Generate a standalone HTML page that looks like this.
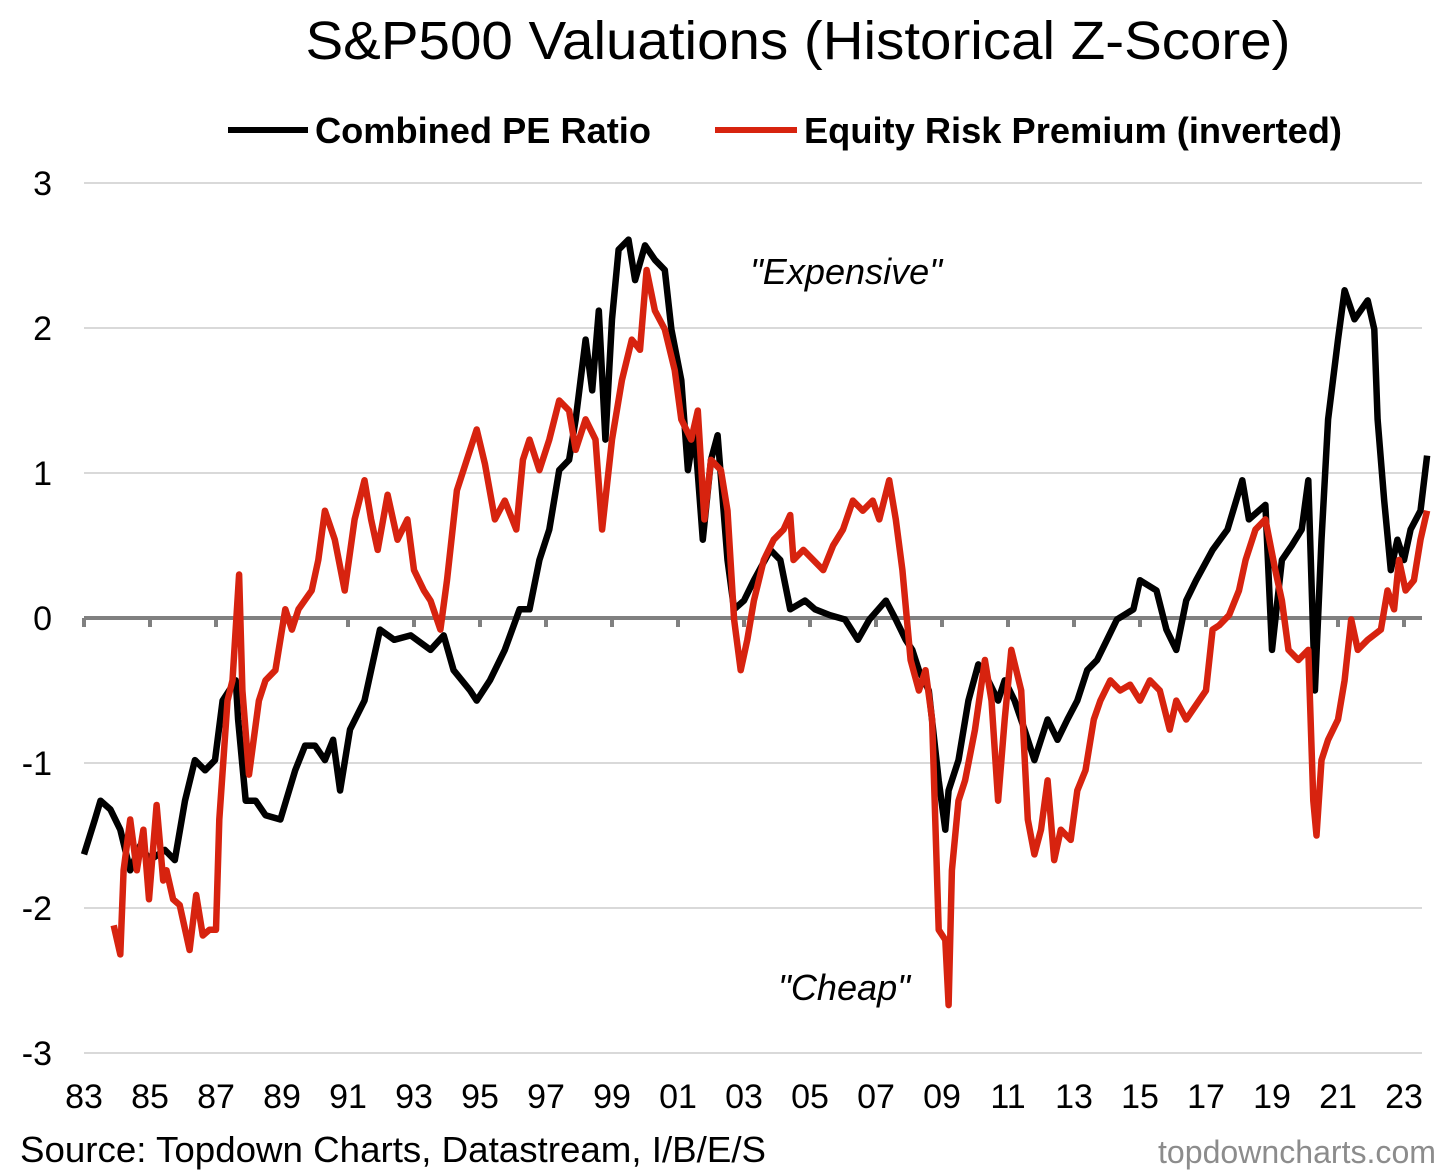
<!DOCTYPE html>
<html><head><meta charset="utf-8"><style>
body{margin:0;background:#fff;}
svg{display:block;font-family:"Liberation Sans",Arial,sans-serif;}
</style></head><body>
<svg id="chart" width="1456" height="1176" viewBox="0 0 1456 1176" xmlns="http://www.w3.org/2000/svg">
<rect width="1456" height="1176" fill="#fff"/>
<text x="798" y="59" text-anchor="middle" font-size="54" textLength="985" lengthAdjust="spacingAndGlyphs">S&amp;P500 Valuations (Historical Z-Score)</text>
<g>
<line x1="228" y1="130" x2="308" y2="130" stroke="#000" stroke-width="6"/>
<text x="315" y="143" font-size="36" font-weight="bold" textLength="336" lengthAdjust="spacingAndGlyphs">Combined PE Ratio</text>
<line x1="715" y1="130" x2="797" y2="130" stroke="#d7230f" stroke-width="6"/>
<text x="804" y="143" font-size="36" font-weight="bold" textLength="538" lengthAdjust="spacingAndGlyphs">Equity Risk Premium (inverted)</text>
</g>
<g id="grid"></g>
<g id="series"></g>
<g id="axes"></g>
<text x="846" y="284" text-anchor="middle" font-size="36" font-style="italic" textLength="192" lengthAdjust="spacingAndGlyphs">"Expensive"</text>
<text x="844" y="1000" text-anchor="middle" font-size="36" font-style="italic" textLength="132" lengthAdjust="spacingAndGlyphs">"Cheap"</text>
<text x="20" y="1162" font-size="36" textLength="746" lengthAdjust="spacingAndGlyphs">Source: Topdown Charts, Datastream, I/B/E/S</text>
<text x="1436" y="1163" text-anchor="end" font-size="32" fill="#8c8c8c" textLength="278" lengthAdjust="spacingAndGlyphs">topdowncharts.com</text>
</svg>
<script>
const yTicks=[3,2,1,0,-1,-2,-3];
const yTickLabels=["3","2","1","0","-1","-2","-3"];
const xTickYears=[1983,1985,1987,1989,1991,1993,1995,1997,1999,2001,2003,2005,2007,2009,2011,2013,2015,2017,2019,2021,2023];
const xTickLabels=["83","85","87","89","91","93","95","97","99","01","03","05","07","09","11","13","15","17","19","21","23"];
const peDates=[1983.0,1983.33,1983.5,1983.8,1984.1,1984.4,1984.7,1985.0,1985.45,1985.75,1986.06,1986.36,1986.67,1986.97,1987.2,1987.6,1987.67,1987.9,1988.2,1988.5,1988.95,1989.4,1989.7,1990.0,1990.3,1990.55,1990.76,1991.06,1991.5,1991.97,1992.4,1992.9,1993.5,1993.9,1994.2,1994.7,1994.9,1995.3,1995.75,1996.2,1996.5,1996.8,1997.1,1997.4,1997.7,1997.9,1998.2,1998.4,1998.6,1998.8,1999.0,1999.2,1999.5,1999.7,2000.0,2000.3,2000.6,2000.8,2001.1,2001.3,2001.5,2001.75,2002.0,2002.2,2002.5,2002.7,2003.0,2003.3,2003.8,2004.1,2004.4,2004.85,2005.15,2005.6,2006.06,2006.45,2006.8,2007.3,2007.6,2007.9,2008.1,2008.3,2008.6,2008.9,2009.1,2009.2,2009.5,2009.8,2010.1,2010.4,2010.7,2010.9,2011.2,2011.5,2011.8,2012.0,2012.2,2012.5,2012.8,2013.1,2013.4,2013.7,2014.0,2014.3,2014.8,2015.0,2015.5,2015.8,2016.1,2016.4,2016.7,2017.2,2017.65,2018.1,2018.3,2018.8,2019.0,2019.3,2019.6,2019.9,2020.1,2020.3,2020.5,2020.7,2021.0,2021.2,2021.5,2021.9,2022.1,2022.2,2022.4,2022.6,2022.8,2023.0,2023.2,2023.5,2023.7];
const peValues=[-1.63,-1.39,-1.26,-1.32,-1.46,-1.74,-1.57,-1.67,-1.6,-1.67,-1.26,-0.98,-1.05,-0.98,-0.57,-0.43,-0.7,-1.26,-1.26,-1.36,-1.39,-1.05,-0.88,-0.88,-0.98,-0.84,-1.19,-0.77,-0.57,-0.08,-0.15,-0.12,-0.22,-0.12,-0.36,-0.5,-0.57,-0.43,-0.22,0.06,0.06,0.4,0.61,1.02,1.09,1.37,1.92,1.57,2.12,1.23,2.06,2.54,2.61,2.33,2.57,2.47,2.4,1.99,1.64,1.02,1.3,0.54,1.09,1.26,0.4,0.06,0.12,0.26,0.47,0.4,0.06,0.12,0.06,0.02,-0.01,-0.15,-0.01,0.12,-0.01,-0.15,-0.22,-0.36,-0.5,-1.12,-1.46,-1.19,-0.98,-0.57,-0.32,-0.43,-0.57,-0.43,-0.57,-0.77,-0.98,-0.84,-0.7,-0.84,-0.7,-0.57,-0.36,-0.29,-0.15,-0.01,0.06,0.26,0.19,-0.08,-0.22,0.12,0.26,0.47,0.61,0.95,0.68,0.78,-0.22,0.4,0.5,0.61,0.95,-0.5,0.54,1.37,1.92,2.26,2.06,2.19,1.99,1.37,0.81,0.33,0.54,0.4,0.61,0.74,1.12];
const erpDates=[1983.9,1984.1,1984.2,1984.4,1984.6,1984.8,1984.97,1985.2,1985.4,1985.5,1985.7,1985.9,1986.2,1986.4,1986.6,1986.8,1987.0,1987.1,1987.35,1987.5,1987.7,1987.8,1988.0,1988.3,1988.5,1988.8,1989.1,1989.3,1989.5,1989.9,1990.1,1990.3,1990.6,1990.9,1991.2,1991.5,1991.7,1991.9,1992.2,1992.5,1992.8,1993.0,1993.3,1993.5,1993.8,1994.0,1994.3,1994.6,1994.9,1995.15,1995.45,1995.75,1996.1,1996.3,1996.5,1996.8,1997.1,1997.4,1997.7,1997.9,1998.2,1998.5,1998.7,1999.0,1999.3,1999.6,1999.85,2000.05,2000.3,2000.6,2000.9,2001.1,2001.4,2001.6,2001.8,2002.0,2002.3,2002.5,2002.7,2002.9,2003.1,2003.3,2003.6,2003.9,2004.2,2004.4,2004.5,2004.8,2005.1,2005.4,2005.7,2006.0,2006.3,2006.6,2006.9,2007.1,2007.4,2007.6,2007.8,2008.05,2008.3,2008.5,2008.7,2008.9,2009.1,2009.2,2009.3,2009.5,2009.7,2010.0,2010.3,2010.5,2010.7,2010.9,2011.1,2011.4,2011.6,2011.8,2012.0,2012.2,2012.4,2012.6,2012.9,2013.1,2013.35,2013.6,2013.8,2014.1,2014.4,2014.7,2015.0,2015.3,2015.6,2015.9,2016.1,2016.4,2016.7,2017.0,2017.2,2017.4,2017.7,2018.0,2018.2,2018.5,2018.8,2019.1,2019.3,2019.5,2019.8,2020.1,2020.25,2020.35,2020.5,2020.7,2021.0,2021.2,2021.4,2021.6,2021.9,2022.3,2022.5,2022.7,2022.85,2023.05,2023.3,2023.5,2023.7];
const erpValues=[-2.12,-2.32,-1.74,-1.39,-1.74,-1.46,-1.94,-1.29,-1.81,-1.74,-1.94,-1.98,-2.29,-1.91,-2.19,-2.15,-2.15,-1.39,-0.57,-0.43,0.3,-0.5,-1.08,-0.57,-0.43,-0.36,0.06,-0.08,0.06,0.19,0.4,0.74,0.54,0.19,0.68,0.95,0.68,0.47,0.85,0.54,0.68,0.33,0.19,0.12,-0.08,0.26,0.88,1.09,1.3,1.06,0.68,0.81,0.61,1.09,1.23,1.02,1.23,1.5,1.43,1.16,1.37,1.23,0.61,1.23,1.64,1.92,1.85,2.4,2.12,1.99,1.71,1.37,1.23,1.43,0.68,1.09,1.02,0.74,-0.01,-0.36,-0.15,0.12,0.4,0.54,0.61,0.71,0.4,0.47,0.4,0.33,0.5,0.61,0.81,0.74,0.81,0.68,0.95,0.68,0.33,-0.29,-0.5,-0.36,-0.7,-2.15,-2.22,-2.67,-1.74,-1.26,-1.12,-0.77,-0.29,-0.57,-1.26,-0.7,-0.22,-0.5,-1.39,-1.63,-1.46,-1.12,-1.67,-1.46,-1.53,-1.19,-1.05,-0.7,-0.57,-0.43,-0.5,-0.46,-0.57,-0.43,-0.5,-0.77,-0.57,-0.7,-0.6,-0.5,-0.08,-0.05,0.02,0.19,0.4,0.61,0.68,0.33,0.12,-0.22,-0.29,-0.22,-1.26,-1.5,-0.98,-0.84,-0.7,-0.43,-0.01,-0.22,-0.15,-0.08,0.19,0.06,0.4,0.19,0.26,0.54,0.74];

const NS="http://www.w3.org/2000/svg";
const X0=84, XR=1422, PXY=33, Y0=618, PXV=145;
function xScale(yr){return X0+(yr-1983)*PXY;}
function yScale(v){return Y0-v*PXV;}
const grid=document.getElementById('grid');
const axes=document.getElementById('axes');
const series=document.getElementById('series');
yTicks.forEach((t,i)=>{
  if(t!==0){
    const l=document.createElementNS(NS,'line');
    
    
    l.setAttribute('x1',X0);l.setAttribute('x2',XR);
    l.setAttribute('y1',yScale(t));l.setAttribute('y2',yScale(t));
    l.setAttribute('stroke','#d9d9d9');l.setAttribute('stroke-width','2');
    grid.appendChild(l);
  }
  const tx=document.createElementNS(NS,'text');
  
  
  tx.setAttribute('x',52);tx.setAttribute('y',yScale(t)+12);
  tx.setAttribute('text-anchor','end');tx.setAttribute('font-size','34');
  tx.textContent=yTickLabels[i];
  axes.appendChild(tx);
});
const zl=document.createElementNS(NS,'line');


zl.setAttribute('x1',X0);zl.setAttribute('x2',XR);
zl.setAttribute('y1',yScale(0));zl.setAttribute('y2',yScale(0));
zl.setAttribute('stroke','#808080');zl.setAttribute('stroke-width','4');
grid.appendChild(zl);
xTickYears.forEach((yr,i)=>{
  const tk=document.createElementNS(NS,'line');
  
  
  tk.setAttribute('x1',xScale(yr));tk.setAttribute('x2',xScale(yr));
  tk.setAttribute('y1',yScale(0));tk.setAttribute('y2',yScale(0)+9);
  tk.setAttribute('stroke','#808080');tk.setAttribute('stroke-width','4');
  grid.appendChild(tk);
  const tx=document.createElementNS(NS,'text');
  
  
  tx.setAttribute('x',xScale(yr));tx.setAttribute('y',1108);
  tx.setAttribute('text-anchor','middle');tx.setAttribute('font-size','34');
  tx.textContent=xTickLabels[i];
  axes.appendChild(tx);
});
function drawLine(dates,vals,color,name){
  const p=document.createElementNS(NS,'path');
  
  
  p.setAttribute('d',dates.map((d,i)=>(i?'L':'M')+xScale(d).toFixed(1)+','+yScale(vals[i]).toFixed(1)).join(''));
  p.setAttribute('fill','none');p.setAttribute('stroke',color);
  p.setAttribute('stroke-width','6.5');p.setAttribute('stroke-linejoin','round');
  series.appendChild(p);
}
drawLine(peDates,peValues,'#000','pe-ratio-line');
drawLine(erpDates,erpValues,'#d7230f','equity-risk-premium-line');
</script>
</body></html>
